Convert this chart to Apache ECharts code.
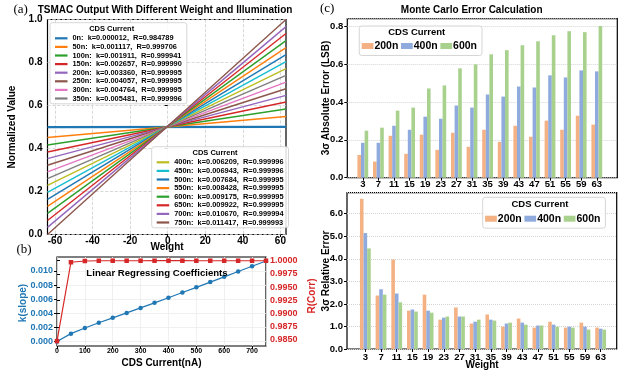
<!DOCTYPE html>
<html>
<head>
<meta charset="utf-8">
<script src="https://cdn.jsdelivr.net/npm/echarts@6/dist/echarts.min.js"></script>
<style>
  html, body { margin: 0; padding: 0; background: #fff; }
  #main { width: 632px; height: 376px; }
</style>
</head>
<body>
<div id="main"></div>
<script>
// (a)/(b) CDS current sweep and regression results
const currents = [0, 50, 100, 150, 200, 250, 300, 350, 400, 450, 500, 550, 600, 650, 700, 750];
const slopes = [0.000012, 0.001117, 0.001911, 0.002657, 0.003360, 0.004057, 0.004764, 0.005481,
  0.006209, 0.006943, 0.007684, 0.008428, 0.009175, 0.009922, 0.010670, 0.011417];
const corrs = [0.984789, 0.999706, 0.999941, 0.999990, 0.999995, 0.999995, 0.999995, 0.999996,
  0.999996, 0.999996, 0.999995, 0.999995, 0.999995, 0.999995, 0.999994, 0.999993];
// normalized output at the two ends of the weight range
const weightEnds = [-64, 63];
const lineLeft = [0.4995, 0.451, 0.416, 0.384, 0.353, 0.322, 0.291, 0.260,
  0.228, 0.196, 0.163, 0.131, 0.098, 0.065, 0.033, 0.0];
const lineRight = [0.5005, 0.549, 0.584, 0.616, 0.647, 0.678, 0.709, 0.740,
  0.772, 0.804, 0.837, 0.869, 0.902, 0.935, 0.967, 1.0];

// (c) Monte Carlo errors
const weights = ['3', '7', '11', '15', '19', '23', '27', '31', '35', '39', '43', '47', '51', '55', '59', '63'];
const abs200 = [0.12, 0.085, 0.221, 0.126, 0.227, 0.147, 0.237, 0.163, 0.253, 0.189, 0.274, 0.216, 0.301, 0.253, 0.327, 0.280];
const abs400 = [0.184, 0.184, 0.274, 0.253, 0.322, 0.311, 0.381, 0.370, 0.439, 0.428, 0.481, 0.476, 0.540, 0.529, 0.566, 0.561];
const abs600 = [0.248, 0.264, 0.354, 0.370, 0.471, 0.487, 0.577, 0.598, 0.651, 0.673, 0.699, 0.720, 0.752, 0.773, 0.768, 0.800];
const rel200 = [6.66, 2.37, 3.97, 1.70, 2.41, 1.30, 1.84, 1.13, 1.53, 0.99, 1.35, 0.95, 1.21, 0.95, 1.17, 0.95];
const rel400 = [5.14, 2.65, 2.46, 1.75, 1.70, 1.39, 1.44, 1.21, 1.30, 1.13, 1.17, 1.04, 1.08, 0.99, 0.99, 0.90];
const rel600 = [4.46, 2.41, 2.07, 1.66, 1.61, 1.44, 1.44, 1.30, 1.26, 1.17, 1.08, 1.04, 0.99, 0.95, 0.86, 0.86];

const FONT = 'Liberation Sans, Arial, sans-serif';
const SERIF = 'Liberation Serif, Times New Roman, serif';
const tab10 = ['#1f77b4', '#ff7f0e', '#2ca02c', '#d62728', '#9467bd', '#8c564b', '#e377c2', '#7f7f7f', '#bcbd22', '#17becf'];
const barColors = ['#f4b183', '#8faadc', '#a9d18e'];
const names = currents.map((c, i) => c + 'n:  k=' + slopes[i].toFixed(6) + ',  R=' + corrs[i].toFixed(6));

const chart = echarts.init(document.getElementById('main'));

const frame = { show: true, borderColor: '#000', borderWidth: 1.2, backgroundColor: 'transparent' };
const grids = [
  { left: 47.5, top: 19.5, width: 238.5, height: 215, ...frame },   // 0 (a) frame
  { left: 55, top: 19.5, width: 225.4, height: 215 },               // 1 (a) x ticks
  { left: 57, top: 257, width: 209, height: 89, ...frame },         // 2 (b) frame
  { left: 57, top: 271, width: 209, height: 70.5 },                 // 3 (b) k axis
  { left: 57, top: 260.7, width: 209, height: 79.3 },               // 4 (b) R axis
  { left: 347.3, top: 18.7, width: 270, height: 159, ...frame },    // 5 (c) top frame
  { left: 355, top: 18.7, width: 249.6, height: 159 },              // 6 (c) top bars
  { left: 347, top: 192.7, width: 269.7, height: 156.3, ...frame }, // 7 (c) bottom frame
  { left: 357.5, top: 192.7, width: 251, height: 156.3 }            // 8 (c) bottom bars
];

const off = (gridIndex, min, max) => ({ type: 'value', gridIndex, min, max, show: false });
const tickLbl = (size, margin, color) => ({
  fontSize: size, fontWeight: 'bold', fontFamily: FONT, color: color || '#000', margin
});
const tick = (color) => ({ show: true, inside: false, length: 3, lineStyle: { color: color || '#000', width: 1 } });

const xAxes = [
  off(0, weightEnds[0], weightEnds[1]),
  {
    type: 'value', gridIndex: 1, min: -60, max: 60, interval: 20,
    axisLine: { show: false }, axisTick: { show: true, length: 2.5, lineStyle: { color: '#000' } },
    axisLabel: tickLbl(10, 1.5),
    splitLine: { show: true, lineStyle: { color: '#cfcfcf', type: 'dashed', width: 0.8 } }
  },
  {
    type: 'value', gridIndex: 2, min: 0, max: 750, interval: 100,
    axisLine: { show: false }, axisTick: tick(),
    axisLabel: { ...tickLbl(7, 1.5), showMaxLabel: false },
    splitLine: { show: true, lineStyle: { color: '#ececec', width: 0.8 } }
  },
  off(3, 0, 750),
  off(4, 0, 750),
  off(5, 0, 1),
  {
    type: 'category', gridIndex: 6, data: weights, boundaryGap: true,
    axisLine: { show: false }, axisTick: { ...tick(), alignWithLabel: true },
    axisLabel: { ...tickLbl(9.5, 2), interval: 0 }
  },
  off(7, 0, 1),
  {
    type: 'category', gridIndex: 8, data: weights, boundaryGap: true,
    axisLine: { show: false }, axisTick: { ...tick(), alignWithLabel: true },
    axisLabel: { ...tickLbl(9.5, 3.5), interval: 0 }
  }
];

const yAxes = [
  {
    type: 'value', gridIndex: 0, min: 0, max: 1, interval: 0.2,
    axisLine: { show: false }, axisTick: tick(),
    axisLabel: { ...tickLbl(10, 5), formatter: (v) => v.toFixed(1) },
    splitLine: { show: true, lineStyle: { color: '#cfcfcf', type: 'dashed', width: 0.8 } }
  },
  off(1, 0, 1),
  off(2, 0, 1),
  {
    type: 'value', gridIndex: 3, min: 0, max: 0.01, interval: 0.002,
    axisLine: { show: false }, axisTick: tick(),
    axisLabel: { ...tickLbl(9, 4, '#1f77b4'), formatter: (v) => v.toFixed(3) },
    splitLine: { show: true, lineStyle: { color: '#ececec', width: 0.8 } }
  },
  {
    type: 'value', gridIndex: 4, position: 'right', min: 0.985, max: 1.0, interval: 0.0025,
    axisLine: { show: false }, axisTick: tick(),
    axisLabel: { ...tickLbl(9, 4, '#d62728'), formatter: (v) => v.toFixed(4) },
    splitLine: { show: false }
  },
  {
    type: 'value', gridIndex: 5, min: 0, max: 0.839, interval: 0.2,
    axisLine: { show: false }, axisTick: tick(),
    axisLabel: { ...tickLbl(9.5, 4), showMaxLabel: false, formatter: (v) => v > 0.81 ? '' : v.toFixed(1) },
    splitLine: { show: true, lineStyle: { color: '#d4d4d4', type: 'dotted', width: 1 } }
  },
  off(6, 0, 0.839),
  {
    type: 'value', gridIndex: 7, min: 0, max: 6.93, interval: 1,
    axisLine: { show: false }, axisTick: tick(),
    axisLabel: { ...tickLbl(9.5, 4), showMaxLabel: false, formatter: (v) => v > 6.5 ? '' : v.toFixed(1) },
    splitLine: { show: true, lineStyle: { color: '#d4d4d4', type: 'dotted', width: 1 } }
  },
  off(8, 0, 6.93)
];

const series = [];
currents.forEach((c, i) => {
  series.push({
    name: names[i], type: 'line', xAxisIndex: 0, yAxisIndex: 0,
    data: [[weightEnds[0], lineLeft[i]], [weightEnds[1], lineRight[i]]],
    symbol: 'none', silent: true,
    itemStyle: { color: tab10[i % 10] },
    lineStyle: { width: i === 0 ? 2.2 : 1.4, color: tab10[i % 10] }
  });
});
series.push({
  name: 'k', type: 'line', xAxisIndex: 3, yAxisIndex: 3, clip: false,
  data: currents.map((c, i) => [c, slopes[i]]),
  symbol: 'circle', symbolSize: 4.5,
  itemStyle: { color: '#1f77b4' }, lineStyle: { width: 1.2, color: '#1f77b4' }
});
series.push({
  name: 'R', type: 'line', xAxisIndex: 4, yAxisIndex: 4, clip: false,
  data: currents.map((c, i) => [c, corrs[i]]),
  symbol: 'rect', symbolSize: 4.5,
  itemStyle: { color: '#d62728' }, lineStyle: { width: 1.2, color: '#d62728' }
});
const barSet = [['200n', abs200, rel200], ['400n', abs400, rel400], ['600n', abs600, rel600]];
barSet.forEach(([name, absVals, relVals], j) => {
  series.push({
    name, type: 'bar', xAxisIndex: 6, yAxisIndex: 6, data: absVals,
    barWidth: 3.6, barGap: '0%', itemStyle: { color: barColors[j] }
  });
  series.push({
    name, type: 'bar', xAxisIndex: 8, yAxisIndex: 8, data: relVals,
    barWidth: 3.6, barGap: '0%', itemStyle: { color: barColors[j] }
  });
});

const legendBox = {
  borderColor: '#cccccc', borderWidth: 0.8, borderRadius: 2.5,
  backgroundColor: 'rgba(255,255,255,0.85)', selectedMode: false
};
const lineLegend = (data, left, top) => ({
  ...legendBox, data, left, top, orient: 'vertical', icon: 'rect',
  itemWidth: 12.5, itemHeight: 2.2, itemGap: 0, padding: [11.3, 5, 1, 5],
  textStyle: { fontSize: 7.4, fontWeight: 'bold', fontFamily: FONT, color: '#000', lineHeight: 8.6 }
});
const barLegend = (left, top, padTop) => ({
  ...legendBox, data: ['200n', '400n', '600n'], left, top, orient: 'horizontal', icon: 'rect',
  itemWidth: 11.7, itemHeight: 6, itemGap: 2.7, padding: [padTop, 5, 3.5, 2.4],
  textStyle: { fontSize: 10.5, fontWeight: 'bold', fontFamily: FONT, color: '#000', lineHeight: 12, padding: [0, 0, 0, -4] }
});

const txt = (text, x, y, size, opts) => ({
  type: 'text', x, y, rotation: (opts && opts.rot) || 0, z: 100,
  style: {
    text, fill: (opts && opts.color) || '#000',
    fontSize: size,
    fontWeight: (opts && opts.weight) || 'bold',
    fontFamily: (opts && opts.family) || FONT,
    textAlign: (opts && opts.align) || 'center', textVerticalAlign: 'middle'
  }
});
const UP = Math.PI / 2;
const serif = { weight: 'normal', family: SERIF, align: 'left' };

chart.setOption({
  animation: false,
  grid: grids,
  xAxis: xAxes,
  yAxis: yAxes,
  series,
  legend: [
    lineLegend(names.slice(0, 8), 50, 22.7),
    lineLegend(names.slice(8), 151.7, 146.7),
    barLegend(359.3, 26, 14),
    barLegend(482.7, 197.3, 15.4)
  ],
  graphic: [
    txt('(a)', 13.5, 10, 13, serif),
    txt('TSMAC Output With Different Weight and Illumination', 165, 10.7, 10),
    txt('Normalized Value', 12, 127, 10, { rot: UP }),
    txt('Weight', 167, 247.5, 10),
    txt('CDS Current', 111.7, 29, 7.5),
    txt('CDS Current', 215, 152.7, 7.5),
    txt('(b)', 16.5, 249.5, 13, serif),
    txt('Linear Regressing Coefficients', 157, 273.3, 9.6),
    txt('k(slope)', 23, 303, 10, { rot: UP, color: '#1f77b4' }),
    txt('R(Corr)', 312, 296, 10, { rot: UP, color: '#d62728' }),
    txt('CDS Current(nA)', 161.5, 363.3, 10),
    txt('(c)', 320, 8.5, 13, serif),
    txt('Monte Carlo Error Calculation', 471.7, 10.7, 10),
    txt('3σ Absolute Error (LSB)', 326, 98, 10, { rot: UP }),
    txt('3σ Relative Error', 326, 271, 10, { rot: UP }),
    txt('Weight', 482, 365.5, 10),
    txt('CDS Current', 416.7, 32.5, 9.5),
    txt('CDS Current', 540, 204.3, 9.5)
  ]
});
</script>
</body>
</html>
